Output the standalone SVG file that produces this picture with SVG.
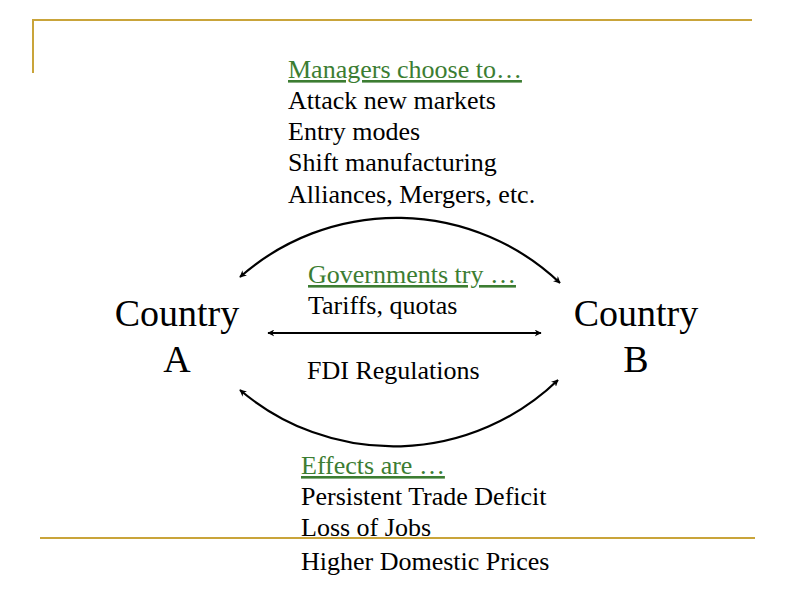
<svg xmlns="http://www.w3.org/2000/svg" width="800" height="600" viewBox="0 0 800 600">
<defs>
<marker id="ah" viewBox="0 0 10 10" refX="9" refY="5" markerWidth="7" markerHeight="7" orient="auto-start-reverse" markerUnits="userSpaceOnUse">
<path d="M0,0 L10,5 L0,10 L3,5 Z" fill="#000"/>
</marker>
</defs>
<rect width="800" height="600" fill="#fff"/>
<g id="frame" stroke="#C9A43A" stroke-width="2" fill="none">
<path d="M33,73 V20 H752"/>
<path d="M40,538 H755"/>
</g>
<g id="connectors" stroke="#000" stroke-width="2.2" fill="none" marker-start="url(#ah)" marker-end="url(#ah)">
<path d="M240,277 A237,237 0 0 1 560,283"/>
<path d="M240,390 A237,237 0 0 0 558,380"/>
<path d="M268,333 H541"/>
</g>
<g id="countryA">
<text x="177" y="326" font-family="Liberation Serif" font-size="38" text-anchor="middle">Country</text>
<text x="177" y="372" font-family="Liberation Serif" font-size="38" text-anchor="middle">A</text>
</g>
<g id="countryB">
<text x="636" y="326" font-family="Liberation Serif" font-size="38" text-anchor="middle">Country</text>
<text x="636" y="372" font-family="Liberation Serif" font-size="38" text-anchor="middle">B</text>
</g>
<g id="managers">
<text x="288" y="78" font-family="Liberation Serif" font-size="26" fill="#3C7D32" text-decoration="underline">Managers choose to…</text>
<text x="288" y="109" font-family="Liberation Serif" font-size="26">Attack new markets</text>
<text x="288" y="140" font-family="Liberation Serif" font-size="26">Entry modes</text>
<text x="288" y="171" font-family="Liberation Serif" font-size="26">Shift manufacturing</text>
<text x="288" y="203" font-family="Liberation Serif" font-size="26">Alliances, Mergers, etc.</text>
</g>
<g id="governments">
<text x="308" y="283" font-family="Liberation Serif" font-size="26" fill="#3C7D32" text-decoration="underline">Governments try …</text>
<text x="308" y="314" font-family="Liberation Serif" font-size="26">Tariffs, quotas</text>
<text x="307" y="379" font-family="Liberation Serif" font-size="26">FDI Regulations</text>
</g>
<g id="effects">
<text x="301" y="474" font-family="Liberation Serif" font-size="26" fill="#3C7D32" text-decoration="underline">Effects are …</text>
<text x="301" y="505" font-family="Liberation Serif" font-size="26">Persistent Trade Deficit</text>
<text x="301" y="536" font-family="Liberation Serif" font-size="26">Loss of Jobs</text>
<text x="301" y="570" font-family="Liberation Serif" font-size="26">Higher Domestic Prices</text>
</g>
</svg>
